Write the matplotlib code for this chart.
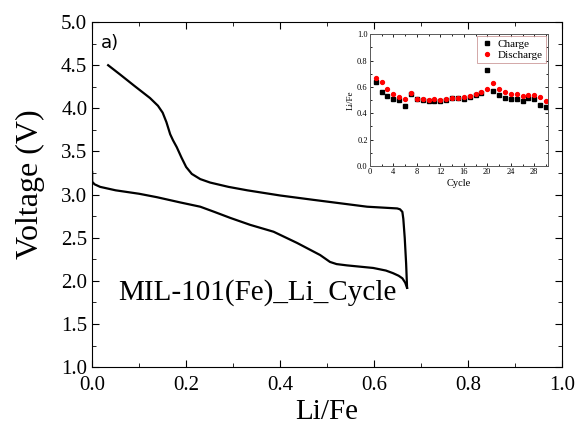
import numpy as np
import matplotlib
matplotlib.use('Agg')
import matplotlib.pyplot as plt
from matplotlib.ticker import MultipleLocator

# discharge curve (lithiation), Li/Fe vs voltage
dis_x = [0.0, 0.0, 0.005, 0.017, 0.05, 0.1, 0.138, 0.187, 0.23, 0.26, 0.294,
         0.336, 0.386, 0.436, 0.485, 0.506, 0.52, 0.542, 0.598, 0.625, 0.64,
         0.652, 0.66, 0.666, 0.67]
dis_v = [3.26, 3.15, 3.12, 3.09, 3.05, 3.01, 2.97, 2.91, 2.86, 2.80, 2.73,
         2.65, 2.57, 2.44, 2.30, 2.22, 2.195, 2.18, 2.15, 2.12, 2.09,
         2.06, 2.03, 1.98, 1.92]

# charge curve (delithiation)
chg_x = [0.67, 0.668, 0.665, 0.662, 0.66, 0.655, 0.649, 0.585, 0.47, 0.4,
         0.33, 0.29, 0.251, 0.23, 0.212, 0.2, 0.19, 0.18, 0.172, 0.166,
         0.158, 0.15, 0.14, 0.123, 0.09, 0.06, 0.034]
chg_v = [1.92, 2.2, 2.5, 2.72, 2.80, 2.83, 2.84, 2.86, 2.94, 2.99,
         3.05, 3.09, 3.14, 3.18, 3.24, 3.32, 3.43, 3.55, 3.63, 3.70,
         3.84, 3.95, 4.03, 4.12, 4.26, 4.39, 4.50]

# inset: Li/Fe per cycle
cycles = list(range(1, 31))
charge = [0.635, 0.56, 0.53, 0.506, 0.499, 0.458, 0.549, 0.505, 0.50, 0.49,
          0.495, 0.49, 0.50, 0.515, 0.515, 0.506, 0.52, 0.54, 0.557, 0.727,
          0.57, 0.537, 0.516, 0.506, 0.504, 0.496, 0.516, 0.509, 0.461, 0.448]
discharge = [0.67, 0.64, 0.582, 0.542, 0.52, 0.509, 0.554, 0.51, 0.506, 0.499,
             0.504, 0.499, 0.506, 0.519, 0.519, 0.524, 0.529, 0.547, 0.562, 0.587,
             0.63, 0.587, 0.562, 0.547, 0.544, 0.534, 0.539, 0.539, 0.524, 0.496]

serif = ['Liberation Serif', 'DejaVu Serif']
plt.rcParams['font.family'] = serif

fig = plt.figure(figsize=(5.76, 4.33), dpi=100)
ax = fig.add_axes([0.160, 0.152, 0.816, 0.797])
ax.plot(dis_x, dis_v, color='black', lw=1.6)
ax.plot(chg_x, chg_v, color='black', lw=1.6)
ax.set_xlim(0, 1.0)
ax.set_ylim(1.0, 5.0)
ax.xaxis.set_major_locator(MultipleLocator(0.2))
ax.xaxis.set_minor_locator(MultipleLocator(0.1))
ax.yaxis.set_major_locator(MultipleLocator(0.5))
ax.yaxis.set_minor_locator(MultipleLocator(0.25))
ax.tick_params(which='both', direction='in', top=True, right=True, labelsize=15)
ax.tick_params(axis='x', pad=6)
ax.tick_params(which='major', length=5)
ax.tick_params(which='minor', length=3)
ax.set_xlabel('Li/Fe', fontsize=21, labelpad=3)
ax.set_ylabel('Voltage (V)', fontsize=23)
ax.yaxis.set_label_coords(-0.10, 0.53)
ax.text(0.018, 0.965, 'a)', transform=ax.transAxes, fontsize=13,
        family='DejaVu Sans', va='top')
ax.text(0.055, 0.215, 'MIL-101(Fe)_Li_Cycle', transform=ax.transAxes,
        fontsize=21, va='center')

ins = fig.add_axes([0.642, 0.617, 0.309, 0.304])
ins.plot(cycles, charge, 's', color='black', ms=3.2, label='Charge')
ins.plot(cycles, discharge, 'o', color='red', ms=2.8, label='Discharge')
ins.set_xlim(0, 30.3)
ins.set_ylim(0, 1.0)
ins.xaxis.set_major_locator(MultipleLocator(4))
ins.xaxis.set_minor_locator(MultipleLocator(2))
ins.yaxis.set_major_locator(MultipleLocator(0.2))
ins.yaxis.set_minor_locator(MultipleLocator(0.1))
ins.tick_params(which='both', direction='in', top=True, right=True,
                labelsize=6, pad=1.5, width=0.6)
ins.tick_params(which='major', length=2.5)
ins.tick_params(which='minor', length=1.5)
for s in ins.spines.values():
    s.set_linewidth(0.7)
    s.set_color('0.35')
ins.set_xlabel('Cycle', fontsize=7.5, labelpad=2)
ins.set_ylabel('Li/Fe', fontsize=6.5, labelpad=2)
leg = ins.legend(loc='upper right', fontsize=8, frameon=True, fancybox=False,
                 handletextpad=0.4, borderpad=0.25, labelspacing=0.1,
                 handlelength=1.2, borderaxespad=0.2)
leg.get_frame().set_edgecolor('#c08080')
leg.get_frame().set_linewidth(0.6)

fig.savefig('out.png', dpi=100)
